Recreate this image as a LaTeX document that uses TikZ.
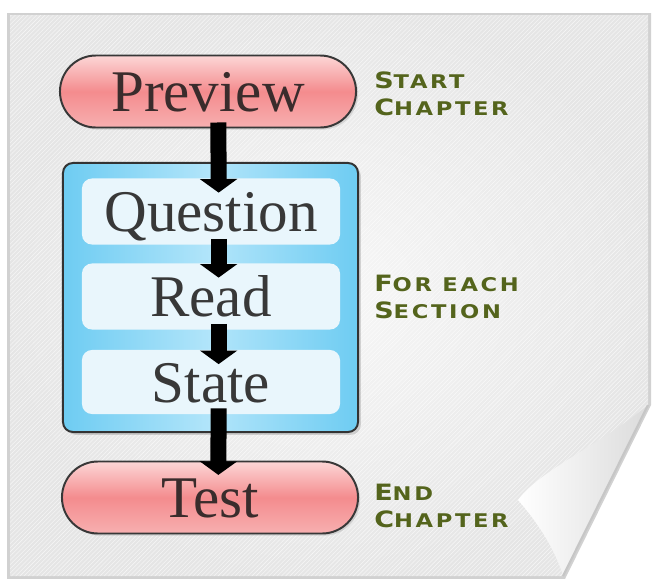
\documentclass[tikz,border=0pt]{standalone}
\usepackage{fontspec}
\setmainfont{Liberation Serif}
\newfontfamily\capfont[FakeStretch=1.2, LetterSpace=14]{DejaVu Sans}
\usepackage{tikz}
\usetikzlibrary{arrows.meta, patterns, shadows, calc}
\definecolor{pinktop}{RGB}{252,214,214}
\definecolor{pinkmid}{RGB}{244,140,142}
\definecolor{pinkbot}{RGB}{247,176,176}
\definecolor{skyedge}{RGB}{110,204,242}
\definecolor{skymid}{RGB}{178,229,250}
\definecolor{stepfill}{RGB}{233,246,252}
\definecolor{inktext}{RGB}{58,44,44}
\definecolor{labelgreen}{RGB}{84,100,28}
\newcommand{\lblcap}[2]{{\fontsize{16}{19.5}\selectfont #1}#2}
\tikzset{
  phasepill/.style={draw=black!78, line width=1.4pt, rounded corners=0.9cm,
      minimum width=7.4cm, minimum height=1.8cm, top color=pinktop,
      bottom color=pinkbot, middle color=pinkmid, text=inktext,
      font=\fontsize{42}{42}\selectfont, text height=28.5pt, text depth=0pt,
      drop shadow={opacity=0.25, shadow xshift=1.5pt, shadow yshift=-1.5pt}},
  loopbox/.style={draw=black!80, line width=1.4pt, rounded corners=0.25cm,
      minimum width=7.375cm, minimum height=6.725cm, left color=skyedge,
      right color=skyedge, middle color=skymid,
      drop shadow={opacity=0.3, shadow xshift=2pt, shadow yshift=-2pt}},
  stagebox/.style={fill=stepfill, rounded corners=0.25cm, minimum width=6.45cm,
      minimum height=1.65cm, text=black!78, font=\fontsize{42}{42}\selectfont,
      text height=28.5pt, text depth=0pt},
  flow/.style={line width=0.4cm, -{Triangle[width=0.92cm, length=0.34cm]},
      shorten >=-0.36cm, shorten <=-0.15cm},
  sidelabel/.style={anchor=west, inner sep=0pt, align=left, text=labelgreen,
      font=\capfont\bfseries\fontsize{13.4}{19.5}\selectfont},
}

\begin{document}
\begin{tikzpicture}[x=0.025cm, y=-0.025cm]
  \useasboundingbox (0,0) rectangle (653,579);
  % sheet of paper with the turned corner
  \fill[black!18] (7,13) -- (651,13) -- (651,405) -- (565,579) -- (7,579) -- cycle;
  \shade[inner color=gray!6, outer color=gray!20] (10,15) -- (648,15) -- (648,405)
    -- (563,576) -- (10,576) -- cycle;
  \fill[pattern=north east lines, pattern color=white, opacity=0.6] (10,15) -- (648,15)
    -- (648,405) -- (563,576) -- (10,576) -- cycle;
  \shade[left color=white, right color=gray!28] (648,405) .. controls (600,445) and (540,470)
    .. (518,500) .. controls (540,525) and (556,552) .. (563,576) -- cycle;
  \draw[gray!45, line width=1.5pt] (648,405) -- (563,576);

  \node[phasepill] (preview) at (208,91.5) {Preview};
  \node[loopbox] (section) at (210.5,297.5) {};
  \node[stagebox] (question) at (211,211.5) {Question};
  \node[stagebox] (read) at (211,296.5) {Read};
  \node[stagebox, minimum height=1.6cm] (state) at (211,382) {State};
  \node[phasepill] (test) at (210,497.5) {Test};

  \draw[flow] ([xshift=0.26cm]preview.south) -- ([xshift=0.19cm]question.north);
  \draw[flow] ([xshift=0.19cm]question.south) -- ([xshift=0.19cm]read.north);
  \draw[flow] ([xshift=0.19cm]read.south) -- ([xshift=0.19cm]state.north);
  \draw[flow] ([xshift=0.19cm]state.south) -- ([xshift=0.21cm]test.north);

  \node[sidelabel] (startlbl) at (374,94) {\lblcap{S}{TART}\\\lblcap{C}{HAPTER}};
  \node[sidelabel] (sectlbl) at (374,297) {\lblcap{F}{OR EACH}\\\lblcap{S}{ECTION}};
  \node[sidelabel] (endlbl) at (374,506) {\lblcap{E}{ND}\\\lblcap{C}{HAPTER}};
\end{tikzpicture}
\end{document}
